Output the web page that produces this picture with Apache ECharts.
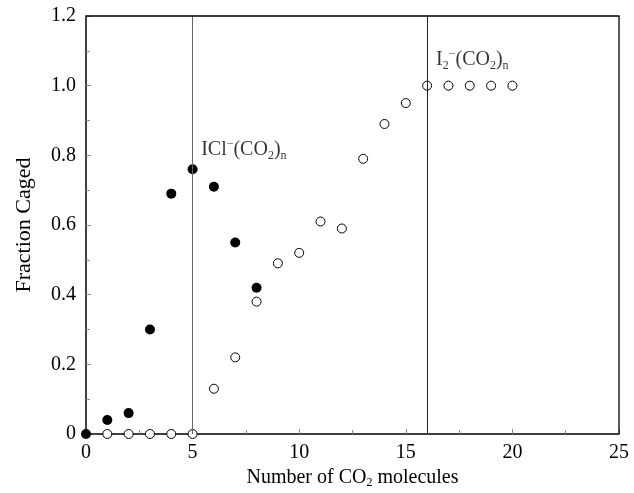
<!DOCTYPE html>
<html>
<head>
<meta charset="utf-8">
<script src="https://cdn.jsdelivr.net/npm/echarts@6/dist/echarts.min.js"></script>
<style>
  html, body { margin: 0; padding: 0; background: #fff; }
  #chart { width: 634px; height: 493px; }
</style>
</head>
<body>
<div id="chart"></div>
<script>
// ICl-(CO2)n: filled circles
const iclN = [0, 1, 2, 3, 4, 5, 6, 7, 8];
const iclFraction = [0, 0.04, 0.06, 0.30, 0.69, 0.76, 0.71, 0.55, 0.42];
// I2-(CO2)n: open circles
const i2N = [1, 2, 3, 4, 5, 6, 7, 8, 9, 10, 11, 12, 13, 14, 15, 16, 17, 18, 19, 20];
const i2Fraction = [0, 0, 0, 0, 0, 0.13, 0.22, 0.38, 0.49, 0.52, 0.61, 0.59, 0.79, 0.89, 0.95, 1.0, 1.0, 1.0, 1.0, 1.0];
// cluster sizes marked with vertical lines
const closedShells = [5, 16];
// series name tags placed in data coordinates
const tagPositions = [[5.4, 0.815], [16.42, 1.074]];

const serif = 'Liberation Serif';
const chart = echarts.init(document.getElementById('chart'));

const richText = {
  base: { fontFamily: serif, fontSize: 20, color: '#000' },
  sup: { fontFamily: serif, fontSize: 12, color: '#000', padding: [0, 0, 12, 0] },
  sub: { fontFamily: serif, fontSize: 12, color: '#000', padding: [11, 0, 0, 0] }
};

const gridBox = { left: 86, right: 15, top: 16, bottom: 59 };
const boxRight = 634 - gridBox.right;
const boxBottom = 493 - gridBox.bottom;

chart.setOption({
  animation: false,
  grid: Object.assign({ outerBoundsMode: 'none', containLabel: false }, gridBox),
  xAxis: {
    type: 'value', min: 0, max: 25, interval: 5,
    name: 'Number of CO{sub|2} molecules',
    nameLocation: 'middle', nameGap: 23,
    nameTextStyle: {
      fontFamily: serif, fontSize: 20, color: '#000', verticalAlign: 'top',
      rich: { sub: { fontFamily: serif, fontSize: 12, color: '#000', padding: [9, 0, 0, 0] } }
    },
    axisLine: { onZero: false, lineStyle: { color: '#000', width: 1.5 } },
    axisTick: { inside: true, length: 5, lineStyle: { color: '#888' } },
    minorTick: { show: true, splitNumber: 2, length: 4, lineStyle: { color: '#888' } },
    axisLabel: { fontFamily: serif, fontSize: 20, color: '#000', margin: 9 },
    splitLine: { show: false }
  },
  yAxis: {
    type: 'value', min: 0, max: 1.2, interval: 0.2,
    name: 'Fraction Caged', nameLocation: 'middle', nameGap: 51,
    nameTextStyle: { fontFamily: serif, fontSize: 22, color: '#000' },
    axisLine: { onZero: false, lineStyle: { color: '#000', width: 1.5 } },
    axisTick: { inside: true, length: 5, lineStyle: { color: '#888' } },
    minorTick: { show: true, splitNumber: 2, length: 4, lineStyle: { color: '#888' } },
    axisLabel: {
      fontFamily: serif, fontSize: 20, color: '#000', margin: 10,
      formatter: v => (v === 0 ? '0' : v.toFixed(1))
    },
    splitLine: { show: false }
  },
  // top and right edges of the frame
  graphic: [{
    type: 'polyline', z: 10, silent: true,
    shape: { points: [[gridBox.left, gridBox.top], [boxRight, gridBox.top], [boxRight, boxBottom]] },
    style: { fill: 'none', stroke: '#000', lineWidth: 1.3 }
  }],
  series: [
    {
      type: 'scatter', name: 'I2',
      data: i2N.map((n, i) => [n, i2Fraction[i]]),
      symbol: 'circle', symbolSize: 9,
      itemStyle: { color: '#fff', borderColor: '#000', borderWidth: 1, opacity: 1 },
      markLine: {
        silent: true, symbol: 'none', label: { show: false },
        lineStyle: { type: 'solid', width: 1 },
        data: closedShells.map((x, i) => ({ xAxis: x, lineStyle: { color: i === 0 ? '#666' : '#222' } }))
      },
      z: 3
    },
    {
      type: 'scatter', name: 'ICl',
      data: iclN.map((n, i) => [n, iclFraction[i]]),
      symbol: 'circle', symbolSize: 10,
      itemStyle: { color: '#000', opacity: 1 },
      z: 4
    },
    {
      type: 'scatter', symbolSize: 0, silent: true,
      data: [
        { value: tagPositions[0], label: { formatter: '{base|ICl}{sup|\u2212}{base|(CO}{sub|2}{base|)}{sub|n}' } },
        { value: tagPositions[1], label: { formatter: '{base|I}{sub|2}{sup|\u2212}{base|(CO}{sub|2}{base|)}{sub|n}' } }
      ],
      label: { show: true, position: 'right', distance: 0, rich: richText },
      z: 5
    }
  ]
});
</script>
</body>
</html>
